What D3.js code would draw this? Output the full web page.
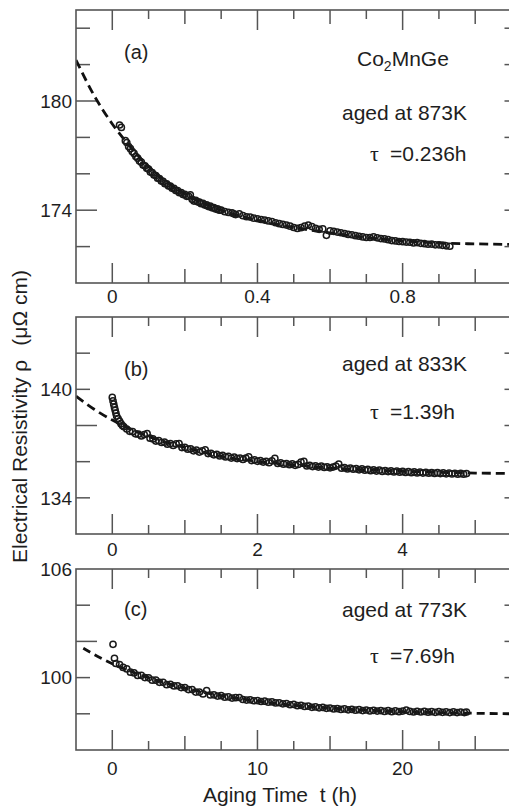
<!DOCTYPE html>
<html><head><meta charset="utf-8">
<script src="https://cdn.jsdelivr.net/npm/d3@7/dist/d3.min.js"></script>
<style>html,body{margin:0;padding:0;background:#fff;} svg{display:block;}</style>
</head><body>
<svg id="chart" width="509" height="810"></svg>
<script>
// ---------------- DATA (t in hours, rho in µΩ cm) ----------------
const dataA = [[0.020,178.68],[0.025,178.55],[0.036,177.82],[0.040,177.72],[0.045,177.5],[0.050,177.38],[0.055,177.22],[0.060,177.12],[0.065,176.95],[0.070,176.86],[0.075,176.7],[0.080,176.64],[0.085,176.48],[0.090,176.44],[0.095,176.3],[0.100,176.26],[0.105,176.1],[0.110,176.06],[0.115,175.94],[0.120,175.9],[0.125,175.76],[0.130,175.74],[0.135,175.6],[0.140,175.58],[0.145,175.46],[0.150,175.45],[0.155,175.33],[0.160,175.32],[0.165,175.2],[0.170,175.2],[0.175,175.08],[0.180,175.08],[0.185,174.96],[0.190,174.97],[0.195,174.86],[0.200,174.87],[0.205,174.76],[0.210,174.77],[0.215,174.85],[0.220,174.6],[0.225,174.5],[0.230,174.54],[0.235,174.46],[0.240,174.44],[0.245,174.36],[0.250,174.37],[0.255,174.28],[0.260,174.29],[0.265,174.2],[0.270,174.22],[0.275,174.13],[0.280,174.14],[0.285,174.06],[0.290,174.07],[0.295,174.0],[0.300,174.0],[0.310,173.92],[0.320,173.88],[0.330,173.85],[0.335,173.8],[0.340,173.76],[0.350,173.8],[0.360,173.7],[0.370,173.64],[0.380,173.62],[0.390,173.56],[0.400,173.53],[0.410,173.49],[0.420,173.46],[0.430,173.41],[0.440,173.38],[0.450,173.31],[0.460,173.26],[0.470,173.22],[0.480,173.18],[0.490,173.12],[0.500,173.05],[0.510,173.0],[0.520,173.04],[0.530,173.12],[0.540,173.18],[0.550,173.1],[0.560,173.0],[0.570,172.95],[0.580,172.97],[0.590,172.62],[0.600,172.86],[0.610,172.84],[0.620,172.8],[0.630,172.76],[0.640,172.72],[0.650,172.67],[0.660,172.65],[0.670,172.6],[0.680,172.57],[0.690,172.53],[0.700,172.5],[0.710,172.5],[0.720,172.53],[0.730,172.48],[0.740,172.44],[0.750,172.42],[0.760,172.38],[0.770,172.33],[0.780,172.31],[0.790,172.28],[0.800,172.27],[0.810,172.25],[0.820,172.24],[0.830,172.2],[0.840,172.22],[0.850,172.18],[0.860,172.16],[0.870,172.13],[0.880,172.14],[0.890,172.1],[0.900,172.1],[0.910,172.07],[0.920,172.04],[0.930,172.02]];

const dataB = [[0.00,139.55],[0.01,139.36],[0.02,139.18],[0.03,139.0],[0.04,138.84],[0.05,138.68],[0.06,138.52],[0.08,138.38],[0.10,138.24],[0.12,138.1],[0.14,138.0],[0.16,137.93],[0.20,137.8],[0.24,137.68],[0.28,137.66],[0.32,137.54],[0.36,137.52],[0.40,137.42],[0.44,137.5],[0.48,137.55],[0.52,137.3],[0.56,137.26],[0.60,137.14],[0.64,137.16],[0.68,137.06],[0.72,137.08],[0.76,136.97],[0.80,137.0],[0.84,136.9],[0.88,136.98],[0.92,137.0],[0.96,136.78],[1.00,136.79],[1.04,136.69],[1.08,136.71],[1.12,136.6],[1.16,136.64],[1.20,136.53],[1.24,136.6],[1.28,136.66],[1.32,136.45],[1.36,136.46],[1.40,136.38],[1.44,136.41],[1.48,136.32],[1.52,136.35],[1.56,136.26],[1.60,136.29],[1.64,136.2],[1.68,136.25],[1.72,136.17],[1.76,136.2],[1.80,136.12],[1.84,136.2],[1.88,136.27],[1.92,136.06],[1.96,136.1],[2.00,136.02],[2.04,136.06],[2.08,135.98],[2.12,136.02],[2.16,135.94],[2.20,136.05],[2.24,136.18],[2.28,135.9],[2.32,135.94],[2.36,135.86],[2.40,135.9],[2.44,135.83],[2.48,135.88],[2.52,135.8],[2.56,135.85],[2.60,135.98],[2.64,136.02],[2.68,135.76],[2.72,135.8],[2.76,135.73],[2.80,135.77],[2.84,135.7],[2.88,135.75],[2.92,135.68],[2.96,135.72],[3.00,135.66],[3.04,135.7],[3.08,135.76],[3.12,135.86],[3.16,135.64],[3.20,135.67],[3.24,135.6],[3.28,135.64],[3.32,135.58],[3.36,135.62],[3.40,135.55],[3.44,135.6],[3.48,135.53],[3.52,135.57],[3.56,135.5],[3.60,135.55],[3.64,135.48],[3.68,135.53],[3.72,135.46],[3.76,135.51],[3.80,135.45],[3.84,135.49],[3.88,135.43],[3.92,135.48],[3.96,135.42],[4.00,135.46],[4.04,135.4],[4.08,135.45],[4.12,135.39],[4.16,135.44],[4.20,135.38],[4.24,135.42],[4.28,135.37],[4.32,135.41],[4.36,135.36],[4.40,135.4],[4.44,135.35],[4.48,135.39],[4.52,135.34],[4.56,135.38],[4.60,135.33],[4.64,135.37],[4.68,135.32],[4.72,135.36],[4.76,135.31],[4.80,135.35],[4.84,135.31],[4.88,135.34]];

const dataC = [[0.05,101.84],[0.15,101.07],[0.25,100.78],[0.5,100.72],[0.75,100.56],[1.0,100.48],[1.25,100.3],[1.5,100.26],[1.75,100.12],[2.0,100.12],[2.25,100.0],[2.5,99.99],[2.75,99.86],[3.0,99.86],[3.25,99.74],[3.5,99.74],[3.75,99.61],[4.0,99.63],[4.25,99.54],[4.5,99.55],[4.75,99.45],[5.0,99.45],[5.25,99.34],[5.5,99.34],[5.75,99.2],[6.0,99.2],[6.25,99.1],[6.5,99.28],[6.75,99.04],[7.0,99.05],[7.25,98.98],[7.5,99.0],[7.75,98.92],[8.0,98.94],[8.25,98.87],[8.5,98.89],[8.75,98.9],[9.0,98.79],[9.25,98.76],[9.5,98.77],[9.75,98.72],[10.0,98.73],[10.25,98.68],[10.5,98.7],[10.75,98.64],[11.0,98.66],[11.25,98.6],[11.5,98.61],[11.75,98.55],[12.0,98.57],[12.25,98.5],[12.5,98.52],[12.75,98.45],[13.0,98.47],[13.25,98.41],[13.5,98.42],[13.75,98.36],[14.0,98.38],[14.25,98.33],[14.5,98.35],[14.75,98.3],[15.0,98.32],[15.25,98.27],[15.5,98.29],[15.75,98.24],[16.0,98.27],[16.25,98.22],[16.5,98.25],[16.75,98.2],[17.0,98.23],[17.25,98.18],[17.5,98.21],[17.75,98.16],[18.0,98.19],[18.25,98.15],[18.5,98.18],[18.75,98.13],[19.0,98.17],[19.25,98.12],[19.5,98.16],[19.75,98.12],[20.0,98.15],[20.25,98.2],[20.5,98.13],[20.75,98.1],[21.0,98.14],[21.25,98.1],[21.5,98.13],[21.75,98.09],[22.0,98.12],[22.25,98.08],[22.5,98.12],[22.75,98.08],[23.0,98.11],[23.25,98.07],[23.5,98.11],[23.75,98.07],[24.0,98.1],[24.25,98.07],[24.4,98.1]];

// fitted exponential curves (dashed)
const fitA = [[-0.1,182.25],[-0.05,180.3],[0,178.74],[0.05,177.48],[0.1,176.4],[0.15,175.55],[0.2,174.9],[0.25,174.4],[0.3,174.0],[0.4,173.45],[0.5,173.05],[0.6,172.75],[0.7,172.5],[0.8,172.32],[0.9,172.2],[1.0,172.15],[1.1,172.12]];
const fitB = [[-0.5,139.62],[-0.25,138.9],[0,138.3],[0.25,137.8],[0.5,137.4],[0.75,137.05],[1,136.78],[1.5,136.3],[2,136.02],[2.5,135.82],[3,135.66],[3.5,135.55],[4,135.46],[4.5,135.41],[5,135.37],[5.5,135.35]];
const fitC = [[-2,101.62],[-1,101.17],[0,100.77],[2.5,100.0],[5,99.42],[7.5,99.0],[10,98.7],[12.5,98.47],[15,98.32],[17.5,98.2],[20,98.12],[22.5,98.07],[25,98.03],[27.5,98.0]];

// tick labels
const xLabelsA = [0, 0.4, 0.8];
const xLabelsB = [0, 2, 4];
const xLabelsC = [0, 10, 20];
const yLabelsA = [174, 180];
const yLabelsB = [134, 140];
const yLabelsC = [100, 106];

// annotations
const panelTags = ["(a)", "(b)", "(c)"];
const agedTexts = ["aged at 873K", "aged at 833K", "aged at 773K"];
const tauTexts = ["=0.236h", "=1.39h", "=7.69h"];

// ---------------- LAYOUT ----------------
const svg = d3.select("#chart");
const L = 76, R = 511.5;
const FRAME = "#555", INK = "#1e1e1e";
const SANS = "'Liberation Sans', Arial, Helvetica, sans-serif";

const panels = [
  {data:dataA, fit:fitA, xDom:[-0.1,1.1], yDom:[170,185], top:10, bottom:283, xStep:0.1, xMed:0.2, xMaj:0.4, yStep:2, xLabels:xLabelsA, yLabels:yLabelsA, xLabBase:303, fmt:d=>d===0?"0":d3.format(".1f")(d),
   tagY:59, agedY:120, tauY:161, dash:"9,5"},
  {data:dataB, fit:fitB, xDom:[-0.5,5.5], yDom:[132,144], top:317, bottom:534, xStep:0.5, xMed:1, xMaj:2, yStep:2, xLabels:xLabelsB, yLabels:yLabelsB, xLabBase:556, fmt:d=>String(d),
   tagY:376, agedY:371, tauY:419, dash:"9,5"},
  {data:dataC, fit:fitC, xDom:[-2.5,27.5], yDom:[96,106], top:569, bottom:750, xStep:2.5, xMed:5, xMaj:10, yStep:2, xLabels:xLabelsC, yLabels:yLabelsC, xLabBase:775, fmt:d=>String(d),
   tagY:616, agedY:617, tauY:663, dash:"8,5"}
];

const isMult = (v, m) => Math.abs(v/m - Math.round(v/m)) < 1e-6;

panels.forEach((p, i) => {
  const x = d3.scaleLinear().domain(p.xDom).range([L, R]);
  const y = d3.scaleLinear().domain(p.yDom).range([p.bottom, p.top]);
  const g = svg.append("g");

  const clipId = "clip" + i;
  svg.append("clipPath").attr("id", clipId).append("rect")
    .attr("x", L).attr("y", p.top).attr("width", R - L).attr("height", p.bottom - p.top);

  // ticks (x)
  const xt = d3.range(p.xDom[0], p.xDom[1] + p.xStep/2, p.xStep).map(v => +v.toFixed(6))
    .filter(v => v > p.xDom[0] + 1e-9 && v < p.xDom[1] - 1e-9);
  const xLen = v => isMult(v, p.xMaj) ? 20 : (isMult(v, p.xMed) ? 14 : 9);
  g.selectAll(".xtt").data(xt).join("line")
    .attr("x1", d => x(d)).attr("x2", d => x(d))
    .attr("y1", p.top).attr("y2", d => p.top + xLen(d))
    .attr("stroke", FRAME).attr("stroke-width", 1.5);
  g.selectAll(".xtb").data(xt).join("line")
    .attr("x1", d => x(d)).attr("x2", d => x(d))
    .attr("y1", p.bottom).attr("y2", d => p.bottom - xLen(d))
    .attr("stroke", FRAME).attr("stroke-width", 1.5);

  // ticks (y)
  const yt = d3.range(p.yDom[0], p.yDom[1] + 0.001, p.yStep)
    .filter(v => v > p.yDom[0] && v < p.yDom[1]);
  const yLen = v => isMult(v, 6) ? 21 : 14;
  g.selectAll(".ytl").data(yt).join("line")
    .attr("x1", L).attr("x2", d => L + yLen(d))
    .attr("y1", d => y(d)).attr("y2", d => y(d))
    .attr("stroke", FRAME).attr("stroke-width", 1.5);
  g.selectAll(".ytr").data(yt).join("line")
    .attr("x1", R).attr("x2", R - 7)
    .attr("y1", d => y(d)).attr("y2", d => y(d))
    .attr("stroke", FRAME).attr("stroke-width", 1.5);

  // fit line
  const line = d3.line().x(d => x(d[0])).y(d => y(d[1])).curve(d3.curveMonotoneX);
  g.append("path").datum(p.fit)
    .attr("clip-path", `url(#${clipId})`)
    .attr("d", line).attr("fill", "none")
    .attr("stroke", "#111").attr("stroke-width", 2.8)
    .attr("stroke-dasharray", p.dash);

  // data circles
  g.append("g").attr("clip-path", `url(#${clipId})`)
    .selectAll("circle").data(p.data).join("circle")
    .attr("cx", d => x(d[0])).attr("cy", d => y(d[1])).attr("r", 3.1)
    .attr("fill", "none").attr("stroke", "#1a1a1a").attr("stroke-width", 1.5);

  // frame
  g.append("rect").attr("x", L).attr("y", p.top).attr("width", R - L).attr("height", p.bottom - p.top)
    .attr("fill", "none").attr("stroke", FRAME).attr("stroke-width", 1.6);

  // tick labels
  g.selectAll(".xl").data(p.xLabels).join("text")
    .attr("x", d => x(d)).attr("y", p.xLabBase)
    .attr("text-anchor", "middle").attr("font-family", SANS).attr("font-size", 19).attr("fill", INK)
    .text(p.fmt);
  g.selectAll(".yl").data(p.yLabels).join("text")
    .attr("x", L - 4).attr("y", d => y(d)).attr("dy", "0.36em")
    .attr("text-anchor", "end").attr("font-family", SANS).attr("font-size", 19).attr("fill", INK)
    .text(d => d);

  // annotations
  g.append("text").attr("x", 124).attr("y", p.tagY)
    .attr("font-family", SANS).attr("font-size", 20).attr("fill", INK).text(panelTags[i]);
  g.append("text").attr("x", 342).attr("y", p.agedY)
    .attr("font-family", SANS).attr("font-size", 21).attr("fill", INK).text(agedTexts[i]);
  g.append("text").attr("x", 370).attr("y", p.tauY)
    .attr("font-family", "'Liberation Serif', 'DejaVu Serif', serif").attr("font-size", 22).attr("fill", INK).text("τ");
  g.append("text").attr("x", 390).attr("y", p.tauY)
    .attr("font-family", SANS).attr("font-size", 21).attr("fill", INK).text(tauTexts[i]);
});

// compound label for panel (a)
const co = svg.append("text").attr("x", 357).attr("y", 66)
  .attr("font-family", SANS).attr("font-size", 21).attr("fill", INK);
co.append("tspan").text("Co");
co.append("tspan").attr("font-size", 14).attr("dy", 5).text("2");
co.append("tspan").attr("dy", -5).text("MnGe");

// axis titles
const yt = svg.append("text")
  .attr("transform", "translate(27,563) rotate(-90)")
  .attr("text-anchor", "start").attr("font-family", SANS).attr("font-size", 21).attr("fill", INK);
yt.append("tspan").text("Electrical Resistivity ρ");
yt.append("tspan").attr("dx", 14).text("(μΩ cm)");
svg.append("text")
  .attr("x", 203).attr("y", 802)
  .attr("font-family", SANS).attr("font-size", 21).attr("fill", INK)
  .style("white-space", "pre")
  .text("Aging Time  t (h)");
</script>
</body></html>
